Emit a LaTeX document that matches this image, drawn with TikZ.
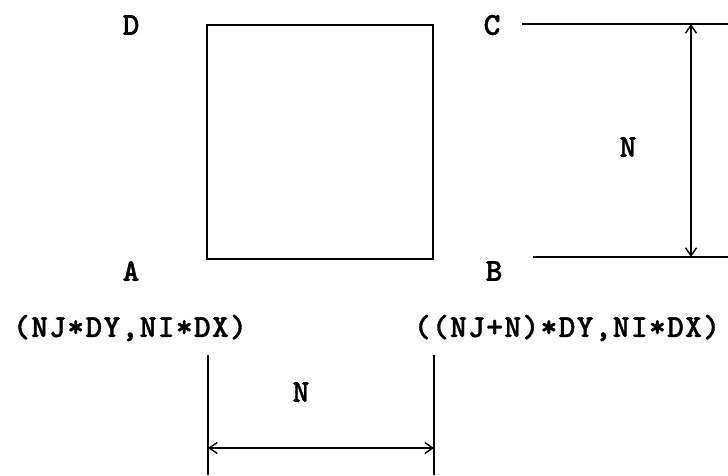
\documentclass[tikz,border=0pt]{standalone}
\usepackage{fontspec}
\newfontfamily\twfont{lmmonolt10-bold.otf}[LetterSpace=4,FakeBold=1.2]
\usetikzlibrary{arrows.meta}
\begin{document}
\begin{tikzpicture}[x=1pt,y=-1pt,
  lbl/.style={font=\twfont\fontsize{32}{36}\selectfont, inner sep=0pt, anchor=center},
  edge/.style={line width=2pt},
  ext/.style={line width=1.4pt},
  dim/.style={line width=1.4pt, {Straight Barb[length=8pt,width=11pt,line width=1.4pt]}-{Straight Barb[length=8pt,width=11pt,line width=1.4pt]}}]
\useasboundingbox (0,0) rectangle (728,475);
% square corners
\coordinate (A) at (207,259);
\coordinate (B) at (433,259);
\coordinate (C) at (433,25);
\coordinate (D) at (207,25);
\draw[edge] (A) -- (B) -- (C) -- (D) -- cycle;
% corner labels
\node[lbl] (lD) at (131,25) {D};
\node[lbl] (lC) at (492,25) {C};
\node[lbl] (lA) at (131,271) {A};
\node[lbl] (lB) at (494,271) {B};
% right dimension
\coordinate (c1) at (522,24);
\coordinate (c2) at (728,24);
\coordinate (b1) at (533,257);
\coordinate (b2) at (728,257);
\draw[ext] (c1) -- (c2);
\draw[ext] (b1) -- (b2);
\coordinate (vt) at (691,24);
\coordinate (vb) at (691,257);
\draw[dim] (vt) -- (vb);
\node[lbl] (nR) at (628,147) {N};
% coordinate texts
\node[lbl] (t1) at (130,328) {(NJ*DY,NI*DX)};
\node[lbl] (t2) at (567,328) {((NJ+N)*DY,NI*DX)};
% bottom dimension
\coordinate (l1) at (208,355);
\coordinate (l2) at (208,475);
\coordinate (r1) at (434,355);
\coordinate (r2) at (434,475);
\draw[ext] (l1) -- (l2);
\draw[ext] (r1) -- (r2);
\coordinate (hl) at (208,448);
\coordinate (hr) at (434,448);
\draw[dim] (hl) -- (hr);
\node[lbl] (nB) at (301,392) {N};
\end{tikzpicture}
\end{document}
